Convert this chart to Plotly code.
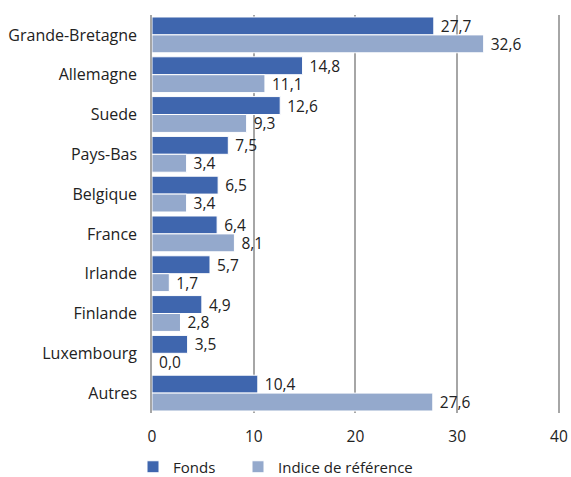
import plotly.graph_objects as go

categories = ["Grande-Bretagne", "Allemagne", "Suede", "Pays-Bas", "Belgique",
              "France", "Irlande", "Finlande", "Luxembourg", "Autres"]
fonds = [27.7, 14.8, 12.6, 7.5, 6.5, 6.4, 5.7, 4.9, 3.5, 10.4]
indice = [32.6, 11.1, 9.3, 3.4, 3.4, 8.1, 1.7, 2.8, 0.0, 27.6]

FONT = "Open Sans"
TXT = "#222222"

fig = go.Figure()
fig.add_trace(go.Bar(
    y=categories, x=fonds, name="Fonds", orientation="h",
    marker=dict(color="#3F66AE", line=dict(color="white", width=1)),
    texttemplate=" %{x:.1f}", textposition="outside", cliponaxis=False,
    textfont=dict(family=FONT, size=15.5, color=TXT),
    legend="legend",
))
fig.add_trace(go.Bar(
    y=categories, x=indice, name="Indice de référence", orientation="h",
    marker=dict(color="#94A9CC", line=dict(color="white", width=1)),
    texttemplate=" %{x:.1f}", textposition="outside", cliponaxis=False,
    textfont=dict(family=FONT, size=15.5, color=TXT),
    legend="legend2",
))

LEG_Y = (477 - 467) / 477.0

fig.update_layout(
    width=571, height=477,
    margin=dict(l=152, r=9, t=15, b=64),
    barmode="group", bargap=0.1, bargroupgap=0,
    separators=", ",
    uniformtext=dict(minsize=15, mode="show"),
    plot_bgcolor="white", paper_bgcolor="white",
    font=dict(family=FONT, size=15, color=TXT),
    showlegend=True,
    legend=dict(orientation="h", x=133 / 571.0, xref="container", xanchor="left",
                y=LEG_Y, yref="container", yanchor="middle",
                font=dict(family=FONT, size=15, color=TXT), itemwidth=30,
                bgcolor="rgba(0,0,0,0)"),
    legend2=dict(orientation="h", x=238 / 571.0, xref="container", xanchor="left",
                 y=LEG_Y, yref="container", yanchor="middle",
                 font=dict(family=FONT, size=15, color=TXT), itemwidth=30,
                 bgcolor="rgba(0,0,0,0)"),
    xaxis=dict(range=[0, 40.3], tickvals=[0, 10, 20, 30, 40], showgrid=True,
               gridcolor="#A6A6A6", gridwidth=1.5, automargin=False,
               zeroline=False, showline=False,
               ticks="outside", ticklen=9, tickcolor="rgba(0,0,0,0)",
               tickfont=dict(family=FONT, size=15.5, color=TXT)),
    yaxis=dict(autorange="reversed", showline=True, linecolor="#A6A6A6", linewidth=1.5,
               ticks="outside", ticklen=10, tickcolor="rgba(0,0,0,0)",
               showgrid=False, automargin=False,
               tickfont=dict(family=FONT, size=16, color=TXT)),
)

fig.write_html("out.html", config={"displayModeBar": False},
               post_script="document.body.style.margin='0';")
